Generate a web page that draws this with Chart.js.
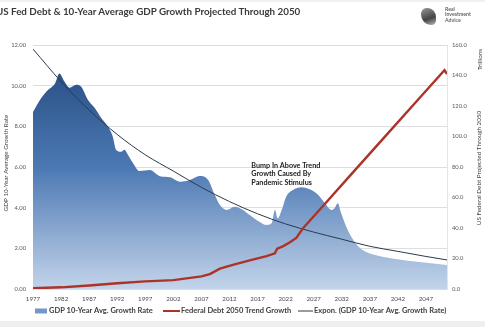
<!DOCTYPE html>
<html><head><meta charset="utf-8">
<script src="https://cdn.jsdelivr.net/npm/chart.js@4/dist/chart.umd.min.js"></script>
<style>
html,body{margin:0;padding:0;background:#fff;}
#wrap{position:relative;width:485px;height:327px;overflow:hidden;background:#fff;}
#title{position:absolute;left:-4px;top:5px;font:bold 9.8px Lato,sans-serif;color:#3a3a3a;white-space:nowrap;}
#logo{position:absolute;left:445px;top:7px;font:bold 5.2px Lato,sans-serif;color:#666;line-height:5.4px;}
#icon{position:absolute;left:421px;top:8px;width:15px;height:17px;border-radius:40% 60% 30% 70%;background:linear-gradient(160deg,#9a9a9a,#444 60%,#bbb);}
#topband{position:absolute;left:0;top:0;width:485px;height:2px;background:#f1f1f1;}
#botband{position:absolute;left:0;top:321px;width:485px;height:6px;background:#efefef;}
canvas{position:absolute;left:0;top:0;}
</style></head>
<body><div id="wrap">
<canvas id="c" width="485" height="327"></canvas>
<div id="topband"></div><div id="botband"></div>
<div id="title">US Fed Debt &amp; 10-Year Average GDP Growth Projected Through 2050</div>
<div id="icon"></div>
<div id="logo">Real<br>Investment<br>Advice</div>
</div>
<script>
// ---- data ----
const gdpYears = [1977,1978.5,1979.7,1980.9,1981.7,1982.6,1983.5,1984.7,1985.6,1986.8,1988,1989.2,1990.3,1991.2,1991.8,1992.7,1993.3,1993.9,1994.8,1996,1997.8,1999.6,2001.4,2003.2,2004.9,2006.7,2008.2,2009.4,2010.3,2011.5,2012.9,2014.4,2015.6,2017.3,2018.6,2019.5,2020.1,2020.6,2021.3,2022.1,2023.3,2024.8,2026.3,2027.8,2029,2030.2,2030.7,2031.3,2031.9,2032.8,2033.7,2034.6,2035.8,2037,2040,2045,2050.75];
const gdpRate = [8.7,9.4,9.8,10.1,10.6,10.2,9.9,10.05,9.95,9.3,8.9,8.4,8.0,7.5,6.85,6.75,6.85,6.6,6.2,5.8,5.85,5.55,5.5,5.28,5.36,5.56,5.36,4.62,4.13,3.89,4.05,3.89,3.64,3.31,3.15,3.23,3.89,3.48,3.89,4.54,4.87,5.0,4.9,4.62,4.22,3.89,3.97,4.22,3.72,3.06,2.57,2.2,1.9,1.75,1.55,1.35,1.18];
const debtYears = [1977,1982,1987,1992,1997,2002,2007,2008.5,2010.3,2012.6,2015.6,2018.6,2020.1,2020.5,2021.5,2022.7,2023.9,2025.1,2028.7,2033.4,2039.3,2045.3,2050.3,2050.75];
const debtTrillions = [0.5,1.1,2.3,3.8,5.0,5.8,8.3,9.8,13.3,15.8,18.8,21.5,23.4,26.5,28,30.5,33.5,39.8,54.6,74,98.3,123,143.5,141];
const trendYears = [1977,1982,1987,1992,1997,2002,2007,2012,2017,2022,2027,2032,2037,2042,2047,2050.75];
const trendRate = [11.8,10.2,8.8,7.6,6.6,5.8,5.0,4.3,3.7,3.2,2.8,2.45,2.1,1.85,1.6,1.43];
const xTickYears = [1977,1982,1987,1992,1997,2002,2007,2012,2017,2022,2027,2032,2037,2042,2047];
const leftTicks = [0,2,4,6,8,10,12];
const rightTicks = [0,20,40,60,80,100,120,140,160];
const seriesNames = ['GDP 10-Year Avg. Growth Rate','Federal Debt 2050 Trend Growth','Expon. (GDP 10-Year Avg. Growth Rate)'];
const annotationLines = ['Bump In Above Trend','Growth Caused By','Pandemic Stimulus'];

const zip = (xs, ys) => xs.map((x, i) => ({x: x, y: ys[i]}));
const FONT = 'Lato, sans-serif';

function areaGrad(ctx) {
  const ch = ctx.chart, a = ch.chartArea;
  if (!a) return '#4a77b0';
  const g = ch.ctx.createLinearGradient(0, a.top, 0, a.bottom);
  g.addColorStop(0, '#22467a');
  g.addColorStop(0.5, '#4b78b3');
  g.addColorStop(1, '#c3d4ea');
  return g;
}

const overlay = {
  id: 'overlay',
  afterDatasetsDraw(chart) {
    const c = chart.ctx, xs = chart.scales.x, ys = chart.scales.y;
    c.save();
    c.fillStyle = '#1a1a1a';
    c.font = 'bold 7.2px ' + FONT;
    c.textBaseline = 'middle';
    c.textAlign = 'left';
    const ax = xs.getPixelForValue(2015.9), ay = ys.getPixelForValue(6.08);
    annotationLines.forEach((t, i) => c.fillText(t, ax, ay + i * 8.7));
    c.restore();
  },
  afterDraw(chart) {
    const c = chart.ctx, a = chart.chartArea;
    c.save();
    c.fillStyle = '#404040';
    c.textBaseline = 'middle';
    c.textAlign = 'center';
    c.font = '6.3px ' + FONT;
    c.save(); c.translate(6, (a.top + a.bottom) / 2 - 4); c.rotate(-Math.PI / 2);
    c.fillText('GDP 10-Year Average Growth Rate', 0, 0); c.restore();
    c.save(); c.translate(479, (a.top + a.bottom) / 2 + 1); c.rotate(-Math.PI / 2);
    c.fillText('US Federal Debt Projected Through 2050', 0, 0); c.restore();
    c.save(); c.translate(479.5, 59.5); c.rotate(-Math.PI / 2);
    c.fillText('Trillions', 0, 0); c.restore();
    // legend
    const ly = 311;
    const ds = chart.data.datasets;
    c.font = 'bold 7.5px ' + FONT;
    c.textAlign = 'left';
    c.fillStyle = '#7496c8';
    c.fillRect(35, ly - 2.5, 12, 5);
    c.fillStyle = '#404040';
    c.fillText(ds[0].label, 49, ly);
    c.strokeStyle = ds[1].borderColor; c.lineWidth = 2;
    c.beginPath(); c.moveTo(163, ly); c.lineTo(180, ly); c.stroke();
    c.fillText(ds[1].label, 181, ly);
    c.strokeStyle = ds[2].borderColor; c.lineWidth = 1;
    c.beginPath(); c.moveTo(298, ly); c.lineTo(313, ly); c.stroke();
    c.fillText(ds[2].label, 314, ly);
    c.restore();
  }
};

new Chart(document.getElementById('c'), {
  type: 'line',
  data: {
    datasets: [
      {label: seriesNames[0], data: zip(gdpYears, gdpRate), yAxisID: 'y', fill: 'origin',
       backgroundColor: areaGrad, borderWidth: 0, borderColor: 'rgba(0,0,0,0)', pointRadius: 0,
       cubicInterpolationMode: 'monotone', order: 3},
      {label: seriesNames[1], data: zip(debtYears, debtTrillions), yAxisID: 'y2', fill: false,
       borderColor: '#ab3329', borderWidth: 2.4, pointRadius: 0, order: 1},
      {label: seriesNames[2], data: zip(trendYears, trendRate), yAxisID: 'y', fill: false,
       borderColor: '#2a3a4c', borderWidth: 1, pointRadius: 0, cubicInterpolationMode: 'monotone', order: 2}
    ]
  },
  options: {
    responsive: false, animation: false,
    layout: {padding: {top: 45, bottom: 18, left: 0, right: 0}},
    plugins: {legend: {display: false}, tooltip: {enabled: false}},
    scales: {
      x: {type: 'linear', min: 1977, max: 2050.75,
          afterBuildTicks: s => { s.ticks = xTickYears.map(v => ({value: v})); },
          afterFit: s => { s.height = 20; },
          ticks: {font: {family: FONT, size: 6.2}, color: '#4a4a4a', padding: 6, maxRotation: 0, autoSkip: false, callback: v => String(v)},
          grid: {display: false, drawTicks: false}, border: {display: false}},
      y: {position: 'left', min: 0, max: 12,
          afterBuildTicks: s => { s.ticks = leftTicks.map(v => ({value: v})); },
          afterFit: s => { s.width = 33; },
          ticks: {font: {family: FONT, size: 5.8}, color: '#595959', padding: 7, callback: v => v.toFixed(2)},
          grid: {color: '#dedede', drawTicks: false}, border: {display: false}},
      y2: {position: 'right', min: 0, max: 160,
          afterBuildTicks: s => { s.ticks = rightTicks.map(v => ({value: v})); },
          afterFit: s => { s.width = 38; },
          ticks: {font: {family: FONT, size: 5.8}, color: '#595959', padding: 5, callback: v => v.toFixed(1)},
          grid: {drawOnChartArea: false, drawTicks: false}, border: {display: true, color: '#e4e4e4'}}
    }
  },
  plugins: [overlay]
});
</script>
</body></html>
